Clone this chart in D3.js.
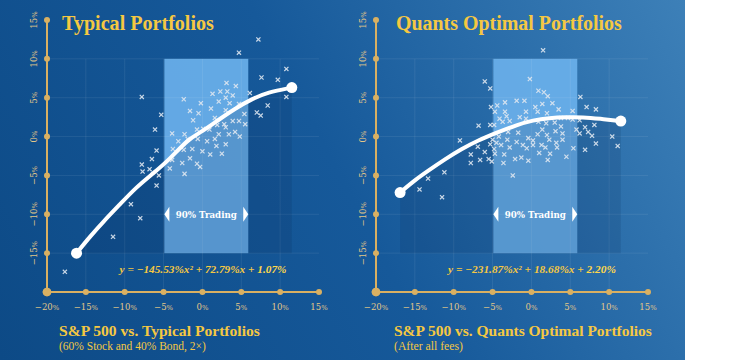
<!DOCTYPE html>
<html>
<head>
<meta charset="utf-8">
<script src="https://cdn.jsdelivr.net/npm/d3@7"></script>
<style>
  body { margin: 0; background: #fff; }
  svg { display: block; }
</style>
</head>
<body>
<svg id="chart" width="745" height="360"></svg>
<script>
// tick values (percent)
const xTicks = [-20, -15, -10, -5, 0, 5, 10, 15];
const yTicks = [-20, -15, -10, -5, 0, 5, 10, 15];
const gridX = [-15, -10, -5, 0, 5, 10];
const gridY = [-15, -10, -5, 0, 5, 10];
const tradingBand = [-4.9, 5.9];

// Typical portfolios: S&P 500 return vs portfolio return (%)
const typicalSpx = [-17.7, -11.5, -9.2, -8.0, -5.9, -5.6, -7.7, -6.8, -7.8, -6.5, -5.9, -6.1, -5.3, -7.8, -4.2, -2.3, -3.9, -2.6, -3.8, -3.1,
  -3.9, -2.3, -1.9, -2.4, -1.6, -1.3, -0.7, -0.3, 0.0, 1.0, 2.5, 1.8, 3.0, 0.6, 1.6, -0.6, 2.1, 3.4, 4.2, 4.8,
  -0.7, 0.1, 0.9, 1.9, 3.0, -1.2, 1.6, 3.9, 4.7, 5.5, 5.4, 3.0, 1.1, -1.6, -0.5, -0.2, -2.4, 1.3, 2.1, 3.0,
  3.5, 4.7, 3.9, 3.2, 2.3, 3.1, 4.3, 6.1, 4.7, 7.2, 7.6, 9.7, 10.8, 10.8, 8.4, 7.0, 7.5, 2.8];
const typicalRet = [-17.4, -12.9, -8.7, -10.5, -6.3, -5.0, -4.5, -4.2, -3.6, -2.9, -1.8, 0.9, 2.8, 5.1, -4.1, -4.8, -3.0, -3.4, -1.6, -0.6,
  0.4, 0.3, -0.3, -1.7, -2.8, -1.6, -3.5, -3.9, -1.9, -2.3, -2.2, -1.2, -1.0, -0.6, -0.3, -0.3, 0.3, 0.3, 0.6, 0.0,
  0.9, 1.0, 0.9, 1.5, 1.2, 2.1, 2.4, 2.0, 2.0, 1.6, 2.9, 3.4, 3.6, 3.3, 3.0, 4.3, 4.8, 5.5, 4.5, 5.0,
  4.3, 4.2, 5.3, 5.8, 5.8, 6.9, 6.5, 5.6, 10.8, 12.5, 7.6, 7.3, 8.7, 5.1, 4.0, 3.1, 2.7, 1.6];
const typicalFitX = [-16.2, -14.5, -12.8, -10.6, -8.5, -6.3, -4.2, -1.8, -0.1, 2.0, 4.2, 6.3, 8.4, 11.5];
const typicalFitY = [-15.0, -12.9, -11.0, -8.7, -6.5, -4.7, -2.9, -0.3, 0.6, 2.1, 3.6, 4.8, 5.7, 6.3];

// Quants optimal portfolios
const quantsSpx = [1.5, -0.2, -6.0, -5.3, 0.9, 1.6, 2.1, 6.3, 7.1, 8.3, 5.3, 3.5, 2.7, 1.4, 2.0, 0.5, 0.8, -0.9, -1.9, -3.4,
  -4.4, -5.2, -4.7, -4.1, -3.4, -3.2, -2.8, -1.5, -0.7, -0.7, -3.7, -4.8, -5.3, -6.8, -9.2, -6.9, -7.8, -7.8, -6.6, -6.0,
  -5.5, -5.3, -4.8, -4.7, -5.0, -4.5, -3.9, -4.2, -3.0, -2.8, -3.1, -3.5, -3.6, -2.1, -1.3, -0.4, -1.9, -1.1, -0.6, 0.2,
  -1.7, -0.4, 0.2, 0.8, 1.4, 2.0, 2.3, 1.9, 3.0, 3.8, 0.9, 3.1, 4.0, 4.0, 1.3, 1.8, 3.3, 3.2, 2.4, 1.0,
  2.1, 4.5, 5.4, -2.4, 5.3, 5.8, 6.2, 6.2, 6.9, 7.3, 7.8, 8.1, 8.3, 6.9, 10.4, 11.1, 3.8, 4.7, -11.2, -13.3,
  -14.4, -11.5, -5.1];
const quantsRet = [11.1, 7.4, 7.1, 6.2, 5.9, 5.7, 5.2, 5.1, 3.8, 3.5, 3.3, 3.5, 4.3, 4.2, 3.0, 3.8, 3.2, 4.6, 4.6, 4.4,
  4.0, 3.8, 3.2, 2.3, 3.2, 2.6, 2.0, 2.5, 3.2, 2.3, 1.9, 1.5, 1.5, 1.4, -0.5, -1.3, -2.3, -3.4, -3.0, -2.0,
  -2.9, -1.0, -1.6, -2.2, -0.4, -0.8, -1.1, 0.0, 0.6, -1.4, -0.4, -2.3, -3.4, -2.9, -2.7, -3.1, -0.7, -1.1, -1.5, -1.1,
  0.5, -0.2, -0.5, 0.3, 0.9, 0.2, -0.4, 1.7, 1.8, 1.3, 1.9, 0.7, 0.4, -0.4, -1.1, -1.4, -1.4, -0.8, -2.2, -2.1,
  -3.0, -2.6, -1.5, -5.0, 2.2, 0.9, 0.4, 2.1, 1.2, 0.6, 0.1, 1.5, -0.9, -1.7, 0.0, -1.2, 2.4, 2.4, -4.6, -5.4,
  -6.8, -7.8, -3.2];
const quantsFitX = [-16.9, -15.0, -13.3, -11.1, -9.0, -6.9, -4.7, -1.9, 0.2, 2.3, 4.5, 6.6, 8.8, 11.5];
const quantsFitY = [-7.2, -5.6, -4.4, -2.9, -1.6, -0.5, 0.4, 1.5, 2.1, 2.4, 2.5, 2.5, 2.3, 2.0];

const panelTitles = ["Typical Portfolios", "Quants Optimal Portfolios"];
const panelSubtitles = ["S&P 500 vs. Typical Portfolios", "S&P 500 vs. Quants Optimal Portfolios"];
const panelNotes = ["(60% Stock and 40% Bond, 2\u00d7)", "(After all fees)"];
const fitLabels = [
  ["y = \u2212145.53%x\u00b2 + 72.79%x + ", "1.07%"],
  ["y = \u2212231.87%x\u00b2 + 18.68%x + ", "2.20%"]
];

const GOLD = "#f5c842";
const AXIS = "#d9b062";
const SERIF = "'DejaVu Serif', serif";
const HEAD = "'Liberation Serif', serif";

const svg = d3.select("#chart");
const defs = svg.append("defs");

const bg = defs.append("linearGradient")
  .attr("id", "bg")
  .attr("gradientUnits", "userSpaceOnUse")
  .attr("x1", 0).attr("y1", 360).attr("x2", 685).attr("y2", 0);
bg.append("stop").attr("offset", 0).attr("stop-color", "#0d4a86");
bg.append("stop").attr("offset", 0.5).attr("stop-color", "#16599a");
bg.append("stop").attr("offset", 1).attr("stop-color", "#3d80b8");

svg.append("rect").attr("width", 685).attr("height", 360).attr("fill", "url(#bg)");

const y = d3.scaleLinear().domain([-20, 15]).range([292, 20]);

// scale font so the text spans the given width
function fitText(sel, w) {
  const fs = parseFloat(sel.attr("font-size"));
  const len = sel.node().getComputedTextLength();
  sel.attr("font-size", fs * w / len);
}

function pct(sel, v) {
  sel.text(v < 0 ? "\u2212" + Math.abs(v) : v);
  sel.append("tspan").attr("font-size", "0.8em").text("%");
}

const panels = [
  { left: 47, spx: typicalSpx, ret: typicalRet, fx: typicalFitX, fy: typicalFitY,
    titleX: 62, titleW: 152, subX: 59, subW: 201, noteW: 147, eqX: 203, eqW: 167 },
  { left: 376, spx: quantsSpx, ret: quantsRet, fx: quantsFitX, fy: quantsFitY,
    titleX: 396, titleW: 226, subX: 394, subW: 258, noteW: 69, eqX: 532, eqW: 168 }
];

panels.forEach((p, i) => {
  const x = d3.scaleLinear().domain([-20, 15]).range([p.left, p.left + 272]);
  const g = svg.append("g");

  // trading band
  g.append("rect")
    .attr("x", x(tradingBand[0]))
    .attr("width", x(tradingBand[1]) - x(tradingBand[0]))
    .attr("y", y(10))
    .attr("height", y(-15) - y(10))
    .attr("fill", "#6ab0ea")
    .attr("opacity", 0.92);

  // grid
  g.selectAll(".gx").data(gridX).join("line")
    .attr("x1", d => x(d)).attr("x2", d => x(d))
    .attr("y1", y(10)).attr("y2", y(-20))
    .attr("stroke", "#fff").attr("stroke-opacity", 0.08);
  g.selectAll(".gy").data(gridY).join("line")
    .attr("x1", x(-20)).attr("x2", x(15))
    .attr("y1", d => y(d)).attr("y2", d => y(d))
    .attr("stroke", "#fff").attr("stroke-opacity", 0.08);

  const fit = d3.zip(p.fx, p.fy);

  // shadow under the fit
  g.append("path")
    .datum(fit)
    .attr("d", d3.area().x(d => x(d[0])).y0(y(-15)).y1(d => y(d[1])).curve(d3.curveBasis))
    .attr("fill", "#04244f")
    .attr("opacity", 0.14);

  // scatter
  g.selectAll(".pt").data(d3.zip(p.spx, p.ret)).join("path")
    .attr("transform", d => `translate(${x(d[0])},${y(d[1])})`)
    .attr("d", d3.symbol().type(d3.symbolX).size(13))
    .attr("fill", "none")
    .attr("stroke", "#dde6f0")
    .attr("stroke-opacity", 0.9)
    .attr("stroke-width", 1.2);

  // fit line
  g.append("path")
    .datum(fit)
    .attr("d", d3.line().x(d => x(d[0])).y(d => y(d[1])).curve(d3.curveBasis))
    .attr("fill", "none")
    .attr("stroke", "#fff")
    .attr("stroke-width", 4)
    .attr("stroke-linecap", "round");
  g.selectAll(".end").data([fit[0], fit[fit.length - 1]]).join("circle")
    .attr("cx", d => x(d[0])).attr("cy", d => y(d[1]))
    .attr("r", 5.5).attr("fill", "#fff");

  // band label
  const bx0 = x(tradingBand[0]), bx1 = x(tradingBand[1]);
  const by = y(-10);
  g.append("text")
    .attr("x", (bx0 + bx1) / 2).attr("y", by + 4)
    .attr("text-anchor", "middle")
    .attr("font-family", SERIF).attr("font-weight", "bold")
    .attr("font-size", 11).attr("fill", "#fff")
    .text("90% Trading")
    .call(fitText, 61);
  g.append("path")
    .attr("d", `M${bx0},${by}L${bx0 + 5},${by - 7.5}L${bx0 + 5},${by + 7.5}Z`)
    .attr("fill", "#fff");
  g.append("path")
    .attr("d", `M${bx1},${by}L${bx1 - 5},${by - 7.5}L${bx1 - 5},${by + 7.5}Z`)
    .attr("fill", "#fff");

  // equation
  const eq = g.append("text")
    .attr("x", p.eqX).attr("y", 272.5)
    .attr("text-anchor", "middle")
    .attr("font-family", HEAD).attr("font-style", "italic").attr("font-weight", "bold")
    .attr("font-size", 12).attr("fill", GOLD)
    .text(fitLabels[i][0]);
  eq.append("tspan").attr("fill", "#ffd84a").text(fitLabels[i][1]);
  fitText(eq, p.eqW);

  // axes
  g.append("path")
    .attr("d", `M${x(-20)},${y(15)}V${y(-20)}H${x(15)}`)
    .attr("fill", "none").attr("stroke", AXIS).attr("stroke-width", 2);
  g.selectAll(".yd").data(yTicks).join("circle")
    .attr("cx", x(-20)).attr("cy", d => y(d))
    .attr("r", d => d === -20 ? 4.3 : 3).attr("fill", AXIS);
  g.selectAll(".xd").data(xTicks).join("circle")
    .attr("cx", d => x(d)).attr("cy", y(-20))
    .attr("r", d => d === -20 ? 4.3 : 3).attr("fill", AXIS);

  g.selectAll(".xl").data(xTicks).join("text")
    .attr("x", d => x(d)).attr("y", 309.5)
    .attr("text-anchor", "middle")
    .attr("font-family", SERIF).attr("font-size", 8.5)
    .attr("fill", "#e2c788")
    .each(function (d) { pct(d3.select(this), d); });
  g.selectAll(".yl").data(yTicks.filter(d => d > -20)).join("text")
    .attr("transform", d => `translate(${x(-20) - 10.5},${y(d)}) rotate(-90)`)
    .attr("text-anchor", "middle")
    .attr("font-family", SERIF).attr("font-size", 8.5)
    .attr("fill", "#e2c788")
    .each(function (d) { pct(d3.select(this), d); });

  // titles
  g.append("text")
    .attr("x", p.titleX).attr("y", 30)
    .attr("font-family", HEAD).attr("font-weight", "bold")
    .attr("font-size", 18).attr("fill", GOLD)
    .text(panelTitles[i])
    .call(fitText, p.titleW);
  g.append("text")
    .attr("x", p.subX).attr("y", 336)
    .attr("font-family", HEAD).attr("font-weight", "bold")
    .attr("font-size", 14).attr("fill", GOLD)
    .text(panelSubtitles[i])
    .call(fitText, p.subW);
  g.append("text")
    .attr("x", p.subX).attr("y", 350)
    .attr("font-family", HEAD)
    .attr("font-size", 11).attr("fill", GOLD)
    .text(panelNotes[i])
    .call(fitText, p.noteW);
});
</script>
</body>
</html>
